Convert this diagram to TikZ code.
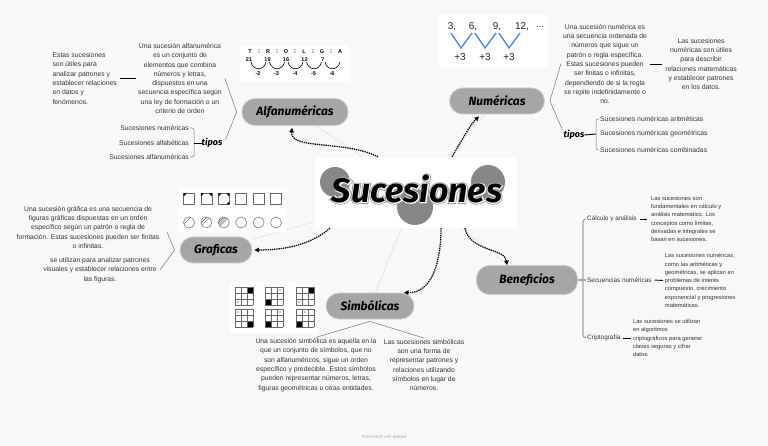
\documentclass[tikz,border=0pt]{standalone}
\usepackage{fontspec}
\setmainfont{Liberation Sans}
\newfontfamily\brushfont{Fira Sans}
\newfontfamily\outerfont{Fira Sans}[FakeBold=9]
\newfontfamily\innerfont{Fira Sans}[FakeBold=4.5]
\usetikzlibrary{positioning,arrows.meta,backgrounds}

\definecolor{paper}{RGB}{248,248,248}
\definecolor{pill}{RGB}{166,166,166}
\definecolor{pillrim}{RGB}{205,205,205}
\definecolor{faint}{RGB}{226,226,226}
\definecolor{disc}{RGB}{135,135,135}
\definecolor{seqblue}{RGB}{66,133,244}

\tikzset{
  topic/.style={fill=pill, draw=pillrim, line width=0.8pt, rounded corners=13pt,
    minimum height=26pt, inner sep=0pt, font=\brushfont\bfseries\itshape\fontsize{12}{12}\selectfont},
  headline/.style={inner sep=0pt, font=\brushfont\bfseries\itshape\fontsize{34}{34}\selectfont},
  note/.style={align=center, inner sep=0pt, text=black!80, font=\fontsize{6.8}{9.3}\selectfont},
  leftnote/.style={note, align=left},
  smallnote/.style={note, align=left, font=\fontsize{5.8}{8.3}\selectfont},
  sub/.style={inner sep=0pt, text=black!80, font=\fontsize{6.8}{8}\selectfont},
  tipos/.style={inner sep=0pt, font=\brushfont\bfseries\itshape\fontsize{9}{9}\selectfont},
  seqtext/.style={inner sep=0pt, font=\bfseries\fontsize{5.5}{6}\selectfont},
  bigseq/.style={inner sep=0pt, text=black!85, font=\fontsize{10}{10}\selectfont},
  hop/.style={-{Triangle[length=4.5pt,width=4.5pt]}, line width=1.3pt, dash pattern=on 1.3pt off 0.9pt},
  twig/.style={draw=black!55, line width=0.5pt},
  tick/.style={draw=black, line width=0.9pt},
  spoke/.style={draw=faint, line width=0.6pt},
  rail/.style={draw=black!35, line width=1.2pt, rounded corners=3pt},
  panel/.style={fill=white, rounded corners=3pt},
}

\begin{document}
\begin{tikzpicture}[x=1pt, y=-1pt]
\useasboundingbox (0,0) rectangle (768,446);

\node[fill=white, minimum width=202pt, minimum height=71pt, inner sep=0pt] (core) at (416,192.5) {};
\fill[disc] (335,182) circle (15pt);
\fill[disc] (488,182) circle (17pt);
\fill[disc] (415,207) circle (18pt);
\node[headline, text=disc!90, font=\outerfont\bfseries\itshape\fontsize{34}{34}\selectfont] (titlehalo) at (417,189) {Sucesiones};
\node[headline, text=white, font=\innerfont\bfseries\itshape\fontsize{34}{34}\selectfont] at (titlehalo.center) (titlerim) {Sucesiones};
\node[headline] (title) at (titlehalo.center) {Sucesiones};

\node[topic, minimum width=106pt, minimum height=27pt] (alfa) at (295,112) {Alfanuméricas};
\node[topic, minimum width=95pt] (num) at (497,101) {Numéricas};
\node[topic, minimum width=72pt] (graf) at (216,250) {Graficas};
\node[topic, minimum width=88pt] (simb) at (370,306) {Simbólicas};
\node[topic, minimum width=101pt, minimum height=29pt] (bene) at (527,280) {Beneficios};

\begin{scope}[on background layer]
  \fill[paper] (0,0) rectangle (768,446);
  \draw[spoke] (core) -- (alfa);
  \draw[spoke] (core) -- (num);
  \draw[spoke] (core) -- (graf);
  \draw[spoke] (core) -- (simb);
  \draw[spoke] (core) -- (bene);
\end{scope}

\draw[hop] ([xshift=-38pt]core.north) .. controls (345,140) and (290,150) .. ([xshift=-3pt,yshift=-2pt]alfa.south);
\draw[hop] ([xshift=36pt]core.north) .. controls (462,140) and (470,125) .. ([xshift=-18pt,yshift=-2pt]num.south);
\draw[hop] ([xshift=-86pt]core.south) .. controls (310,245) and (285,250) .. ([xshift=2pt]graf.east);
\draw[hop] ([xshift=25pt]core.south) .. controls (441,262) and (432,293) .. ([xshift=34pt]simb.north);
\draw[hop] ([xshift=49pt]core.south) .. controls (470,252) and (505,248) .. ([xshift=-20pt]bene.north);

\node[note] (alfadesc) at (180,78.5) {Una sucesión alfanumérica\\es un conjunto de\\elementos que combina\\números y letras,\\dispuestos en una\\secuencia específica según\\una ley de formación o un\\criterio de orden};
\node[leftnote, left=21pt of alfadesc] (alfauso) {Estas sucesiones\\son útiles para\\analizar patrones y\\establecer relaciones\\en datos y\\fenómenos.};
\node[tipos] (alfatipos) at (212,143) {tipos};
\node[sub, anchor=east] (alfai1) at (189,128) {Sucesiones numéricas};
\node[sub, anchor=east] (alfai2) at (189,143) {Sucesiones alfabéticas};
\node[sub, anchor=east] (alfai3) at (189,157) {Sucesiones alfanuméricas};
\coordinate (alfaknot) at ([xshift=-5pt]alfa.west);
\draw[twig] ([xshift=3pt]alfadesc.east) -- (alfaknot) -- ([xshift=3pt,yshift=3pt]alfatipos.east);
\draw[tick, shorten <=3pt, shorten >=2pt] (alfauso.east) -- (alfadesc.west);
\draw[twig, rounded corners=2pt] ([xshift=1pt]alfai1.east) -| ([xshift=5pt]alfai2.east) |- ([xshift=1pt]alfai3.east);
\draw[tick] ([xshift=5pt]alfai2.east) -- (alfatipos.west);

\fill[panel] (240,45) rectangle (350,82);
\foreach \l [count=\i from 0] in {T,R,O,L,G,A}
  \node[seqtext] (letra\i) at (250+18*\i,52) {\l};
\foreach \i in {0,...,4}
  \node[seqtext] (semi\i) at (259+18*\i,52) {;};
\foreach \n [count=\i from 0] in {21,19,16,12,7}
  \node[seqtext] (cifra\i) at (249+18.5*\i,60) {\n};
\foreach \i in {0,...,4}
  \draw[line width=0.6pt] (251+18.5*\i,62) .. controls (253+18.5*\i,71) and (264+18.5*\i,71) .. (266+18.5*\i,62);
\foreach \d [count=\i from 0] in {-2,-3,-4,-5,-6}
  \node[seqtext] (resta\i) at (258+18.5*\i,74) {\d};

\node[note] (numdesc) at (605,64) {Una sucesión numérica es\\una secuencia ordenada de\\números que sigue un\\patrón o regla específica.\\Estas sucesiones pueden\\ser finitas o infinitas,\\dependiendo de si la regla\\se repite indefinidamente o\\no.};
\node[note, right=18pt of numdesc] (numuso) {Las sucesiones\\numéricas son útiles\\para describir\\relaciones matemáticas\\y establecer patrones\\en los datos.};
\node[tipos] (numtipos) at (574,135) {tipos};
\node[sub, anchor=west] (numi1) at (600,119) {Sucesiones numéricas aritméticas};
\node[sub, anchor=west] (numi2) at (600,134) {Sucesiones numéricas geométricas};
\node[sub, anchor=west] (numi3) at (600,150) {Sucesiones numéricas combinadas};
\coordinate (numknot) at ([xshift=5pt]num.east);
\draw[twig] ([xshift=-2pt]numdesc.west) -- (numknot) -- ([xshift=-1pt]numtipos.north west);
\draw[tick, shorten <=3pt, shorten >=3pt] (numdesc.east) -- (numuso.west);
\draw[twig, rounded corners=2pt] ([xshift=-1pt]numi1.west) -| ([xshift=-4pt]numi2.west) |- ([xshift=-1pt]numi3.west);
\draw[tick] (numtipos.east) -- ([xshift=-4pt]numi2.west);

\fill[panel] (438,15) rectangle (548,68);
\node[bigseq] (tres) at (452,27) {3,};
\node[bigseq] (seis) at (473,27) {6,};
\node[bigseq] (nueve) at (497,27) {9,};
\node[bigseq] (doce) at (522,27) {12,};
\node[bigseq] (etc) at (540,27) {...};
\draw[seqblue, line width=1.3pt] (451,33) -- (461,48) -- (472,33);
\draw[seqblue, line width=1.3pt] (475,33) -- (485,48) -- (496,33);
\draw[seqblue, line width=1.3pt] (499,33) -- (509,48) -- (520,33);
\foreach \x [count=\i] in {460,485,509}
  \node[bigseq] (mas\i) at (\x,57) {+3};

\node[note] (grafdesc) at (88,227.5) {Una sucesión gráfica es una secuencia de\\figuras gráficas dispuestas en un orden\\específico según un patrón o regla de\\formación. Estas sucesiones pueden ser finitas\\o infinitas.};
\node[note] (grafuso) at (100,270) {se utilizan para analizar patrones\\visuales y establecer relaciones entre\\las figuras.};
\coordinate (grafknot) at ([xshift=-5pt]graf.west);
\coordinate (grafup) at (167,232);
\draw[twig] (grafup) -- (grafknot) -- ([xshift=3pt]grafuso.east);

\fill[panel] (178,188) rectangle (287,232);
\foreach \i in {0,...,5} {
  \draw[black!60, line width=0.5pt] (183.5+17.4*\i,193.5) rectangle +(11,11);
  \draw[black!60, line width=0.5pt] (189+17.4*\i,222.5) circle (5.5pt);
}
\fill (183.5,193.5) -- +(3,0) -- +(0,3) -- cycle;
\fill (200.9,193.5) -- +(3,0) -- +(0,3) -- cycle;
\fill (211.9,193.5) -- +(-3,0) -- +(0,3) -- cycle;
\fill (218.3,193.5) -- +(3,0) -- +(0,3) -- cycle;
\fill (229.3,193.5) -- +(-3,0) -- +(0,3) -- cycle;
\fill (229.3,204.5) -- +(-3,0) -- +(0,-3) -- cycle;
\foreach \i/\ts in {0/{2.5}, 1/{1.5,3.5}, 2/{0,1.2,2.4,3.6,4.8}} {
  \begin{scope}
    \clip (189+17.4*\i,222.5) circle (5.5pt);
    \foreach \t in \ts
      \draw[black!55, line width=0.4pt] ([shift={(-\t*0.7-6,-\t*0.7+6)}]189+17.4*\i,222.5) -- ++(12,-12);
  \end{scope}
}

\node[note] (simbdesc) at (316,365) {Una sucesión simbólica es aquella en la\\que un conjunto de símbolos, que no\\son alfanuméricos, sigue un orden\\específico y predecible. Estos símbolos\\pueden representar números, letras,\\figuras geométricas u otras entidades.};
\node[note] (simbuso) at (424,365) {Las sucesiones simbólicas\\son una forma de\\representar patrones y\\relaciones utilizando\\símbolos en lugar de\\números.};
\draw[twig] ([yshift=1pt]simbdesc.north) -- ([yshift=-2pt]simb.south) -- ([yshift=1pt]simbuso.north);

\fill[panel] (229,282) rectangle (319,333);
\foreach \gx/\gy/\cx/\cy/\dx/\dy in {235/287/2/0/0/2, 265/287/0/2/2/0, 296/287/2/0/0/2, 235/309/2/2/0/0, 265/309/0/2/2/0, 296/309/0/2/1/0} {
  \begin{scope}[shift={(\gx,\gy)}]
    \fill (6*\cx,6*\cy) rectangle +(6,6);
    \fill (3+6*\dx,3+6*\dy) circle (0.7pt);
    \draw[black!60, line width=0.4pt] (0,0) grid[step=6pt] (18,18);
  \end{scope}
}

\node[sub, anchor=west, font=\fontsize{6.4}{7}\selectfont] (bcalc) at (587,219) {Cálculo y análisis};
\node[sub, anchor=west, font=\fontsize{6.4}{7}\selectfont] (bsec) at (587,280) {Secuencias numéricas};
\node[sub, anchor=west, font=\fontsize{6.4}{7}\selectfont] (bcrip) at (587,338) {Criptografía};
\draw[rail] ([xshift=-1pt]bcalc.west) -| ([xshift=-4pt]bsec.west) |- ([xshift=-1pt]bcrip.west);
\draw[rail] (bene.east) -- ([xshift=-1pt]bsec.west);
\node[smallnote, right=14pt of bcalc] (bcalctxt) {Las sucesiones son\\fundamentales en cálculo y\\análisis matemático. Los\\conceptos como límites,\\derivadas e integrales se\\basan en sucesiones.};
\node[smallnote, right=13pt of bsec, yshift=-0.5pt] (bsectxt) {Las sucesiones numéricas,\\como las aritméticas y\\geométricas, se aplican en\\problemas de interés\\compuesto, crecimiento\\exponencial y progresiones\\matemáticas.};
\node[smallnote, right=12pt of bcrip] (bcriptxt) {Las sucesiones se utilizan\\en algoritmos\\criptográficos para generar\\claves seguras y cifrar\\datos.};
\draw[tick, shorten <=3pt, shorten >=4pt] (bcalc.east) -- (bcalctxt.west);
\draw[tick, shorten <=3pt, shorten >=2pt] (bsec.east) -- (bsectxt.west);
\draw[tick, shorten <=2pt, shorten >=2pt] (bcrip.east) -- (bcriptxt.west);

\node[inner sep=0pt, text=black!30, font=\fontsize{4.5}{5}\selectfont] (credit) at (384,437) {Presented with \textbf{xmind}};
\end{tikzpicture}
\end{document}
